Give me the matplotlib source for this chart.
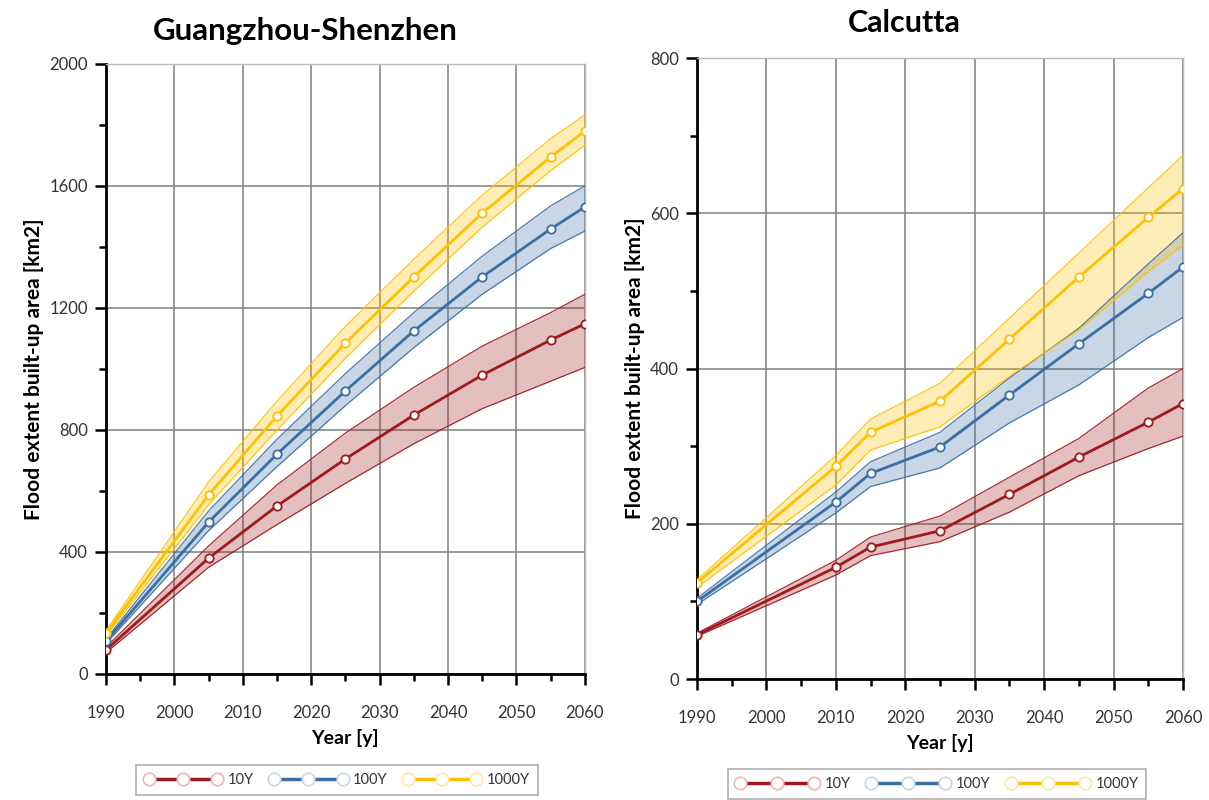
import matplotlib
matplotlib.use("Agg")
import matplotlib.pyplot as plt
from matplotlib.lines import Line2D
from matplotlib.ticker import MultipleLocator

plt.rcParams['font.family'] = ['Lato', 'DejaVu Sans']

# ---------------- data ----------------
gz_years = [1990, 2005, 2015, 2025, 2035, 2045, 2055, 2060]
gz_10 = [79, 380, 551, 705, 849, 980, 1095, 1148]
gz_10_lo = [70, 350, 490, 625, 755, 870, 960, 1005]
gz_10_hi = [88, 420, 620, 790, 940, 1075, 1185, 1245]
gz_100 = [108, 498, 721, 928, 1125, 1302, 1459, 1531]
gz_100_lo = [100, 470, 680, 880, 1070, 1245, 1395, 1452]
gz_100_hi = [115, 535, 770, 985, 1185, 1370, 1535, 1600]
gz_1000 = [134, 587, 846, 1085, 1302, 1511, 1695, 1780]
gz_1000_lo = [125, 555, 800, 1035, 1255, 1465, 1650, 1734]
gz_1000_hi = [142, 630, 895, 1140, 1360, 1570, 1755, 1833]

ca_years = [1990, 2010, 2015, 2025, 2035, 2045, 2055, 2060]
ca_10 = [57, 144, 170, 191, 238, 286, 331, 355]
ca_10_lo = [55, 134, 159, 177, 215, 262, 297, 313]
ca_10_hi = [59, 153, 183, 210, 260, 310, 375, 400]
ca_100 = [100, 228, 265, 299, 366, 432, 497, 531]
ca_100_lo = [96, 214, 248, 272, 330, 379, 440, 466]
ca_100_hi = [104, 241, 280, 318, 388, 452, 535, 575]
ca_1000 = [124, 274, 318, 358, 438, 518, 595, 632]
ca_1000_lo = [118, 250, 295, 325, 390, 450, 525, 559]
ca_1000_hi = [128, 288, 335, 381, 465, 549, 633, 675]

labels = ['10Y', '100Y', '1000Y']
titles = ['Guangzhou-Shenzhen', 'Calcutta']
colors = ['#9E1A1D', '#3A6FA6', '#FFC000']
pale = ['#E8B8B8', '#C8D8EA', '#FFE7A0']

W, H = 1209, 800
fig = plt.figure(figsize=(W / 100, H / 100), dpi=100)
ax1 = fig.add_axes([0.0877, 0.1575, 0.396, 0.7625])
ax2 = fig.add_axes([0.5765, 0.15125, 0.402, 0.776])


def draw(ax, years, series, ymax, ymajor, yminor):
    for (mid, lo, hi), c in zip(series, colors):
        ax.fill_between(years, lo, hi, color=c, alpha=0.28, lw=0, zorder=2)
        ax.plot(years, lo, color=c, lw=0.9, alpha=0.9, zorder=3)
        ax.plot(years, hi, color=c, lw=0.9, alpha=0.9, zorder=3)
        ax.plot(years, mid, color=c, lw=2.0, marker='o', ms=6,
                mfc='white', mec=c, mew=1.3, zorder=4)
    ax.set_xlim(1990, 2060)
    ax.set_ylim(0, ymax)
    ax.xaxis.set_major_locator(MultipleLocator(10))
    ax.xaxis.set_minor_locator(MultipleLocator(5))
    ax.yaxis.set_major_locator(MultipleLocator(ymajor))
    ax.yaxis.set_minor_locator(MultipleLocator(yminor))
    ax.grid(True, which='major', color='#808080', lw=1.1, zorder=0)
    ax.set_axisbelow(True)
    for s in ['top', 'right']:
        ax.spines[s].set_color('#BBBBBB')
        ax.spines[s].set_linewidth(1.0)
    for s in ['left', 'bottom']:
        ax.spines[s].set_color('black')
        ax.spines[s].set_linewidth(2.0)
    ax.tick_params(which='major', direction='out', length=8, width=1.8,
                   labelsize=12, colors='black', labelcolor='#333333')
    ax.tick_params(axis='x', which='major', pad=14)
    ax.tick_params(axis='y', which='major', pad=5)
    ax.tick_params(which='minor', direction='out', length=5, width=1.8)
    ax.set_xlabel('Year [y]', fontsize=14, fontweight='bold', labelpad=6)
    ax.set_ylabel('Flood extent built-up area [km2]', fontsize=15,
                  fontweight='bold', labelpad=4)


draw(ax1, gz_years,
     [(gz_10, gz_10_lo, gz_10_hi), (gz_100, gz_100_lo, gz_100_hi),
      (gz_1000, gz_1000_lo, gz_1000_hi)], 2000, 400, 200)
draw(ax2, ca_years,
     [(ca_10, ca_10_lo, ca_10_hi), (ca_100, ca_100_lo, ca_100_hi),
      (ca_1000, ca_1000_lo, ca_1000_hi)], 800, 200, 100)

fig.text(305 / W, 1 - 31 / H, titles[0], ha='center', va='center',
         fontsize=22.5, fontweight='bold')
fig.text(904 / W, 1 - 23 / H, titles[1], ha='center', va='center',
         fontsize=22, fontweight='bold')

handles = [Line2D([0], [0], color=c, lw=2.5, marker='o', ms=9, mfc='white',
                  mec=p, mew=1.2) for c, p in zip(colors, pale)]

for cx, cy, hl in [(337 / W, 1 - 780 / H, 5.3), (937 / W, 1 - 784 / H, 5.7)]:
    leg = fig.legend(handles, labels, loc='center', bbox_to_anchor=(cx, cy),
                     ncol=3, numpoints=3, handlelength=hl, handletextpad=0.4,
                     columnspacing=1.1, frameon=True, fancybox=False,
                     fontsize=10.5, borderpad=0.55)
    leg.get_frame().set_edgecolor('#999999')
    leg.get_frame().set_linewidth(1.2)
    for t in leg.get_texts():
        t.set_color('#333333')

fig.savefig('out.png', dpi=100)
